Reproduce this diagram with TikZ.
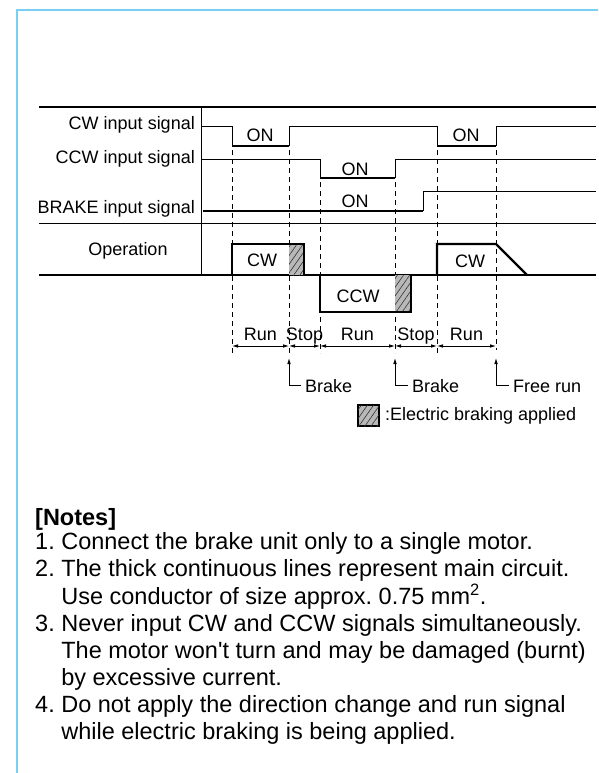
\documentclass[tikz,border=0pt]{standalone}
\usepackage{fontspec}
\setmainfont{Liberation Sans}
\usetikzlibrary{arrows.meta, patterns.meta, positioning}

\definecolor{framecyan}{RGB}{120,208,242}

\tikzset{
  lbl/.style={font=\fontsize{18}{21}\selectfont, inner sep=0pt},
  thinsig/.style={line width=0.9pt},
  onsig/.style={line width=2pt},
  opsig/.style={line width=2.2pt, line join=miter},
  guide/.style={line width=0.8pt, dash pattern=on 5pt off 4pt},
  span/.style={{Latex[length=6pt,width=3.6pt]}-{Latex[length=6pt,width=3.6pt]}, line width=0.8pt},
  pointer/.style={-{Latex[length=6pt,width=3.6pt]}, line width=0.8pt},
  hatched/.style={fill=black!28, postaction={pattern={Lines[angle=55,distance=5pt,line width=0.6pt]}, pattern color=black!80}},
}

\begin{document}
\frenchspacing
\begin{tikzpicture}[x=1pt, y=-1pt]
\useasboundingbox (0,0) rectangle (598,773);

% frame
\draw[framecyan, line width=2.5pt] (17,773) -- (17,10) -- (598,10);

% chart rules
\draw[line width=1.1pt] (39,107) -- (596,107);
\draw[thinsig] (39,223) -- (596,223);
\draw[thinsig] (201,107) -- (201,275);

% row labels
\node[lbl, anchor=base east] (cwlbl) at (195,129) {CW input signal};
\node[lbl, anchor=base east] (ccwlbl) at (195,163) {CCW input signal};
\node[lbl, anchor=base east] (brklbl) at (195,213) {BRAKE input signal};
\node[lbl, anchor=base] (oplbl) at (128,255) {Operation};

% guide lines
\draw[guide] (232,150) -- (232,353);
\draw[guide] (289,150) -- (289,353);
\draw[guide] (320,182) -- (320,353);
\draw[guide] (395,182) -- (395,353);
\draw[guide] (437,150) -- (437,353);
\draw[guide] (496,150) -- (496,350);

% CW input signal
\draw[thinsig] (201,126) -- (232,126) -- (232,146) (289,146) -- (289,126) -- (437,126) -- (437,146)
  (496,146) -- (496,126) -- (596,126);
\draw[onsig] (232,146) -- (289,146);
\draw[onsig] (437,146) -- (496,146);
\node[lbl, anchor=base] (cwon1) at (260,142) {ON};
\node[lbl, anchor=base] (cwon2) at (466,141) {ON};

% CCW input signal
\draw[thinsig] (201,159) -- (320,159) -- (320,178) (395,178) -- (395,159) -- (596,159);
\draw[onsig] (320,178) -- (395,178);
\node[lbl, anchor=base] (ccwon) at (355,175) {ON};

% BRAKE input signal
\draw[onsig] (203,211) -- (423,211);
\draw[thinsig] (423,211) -- (423,191) -- (596,191);
\node[lbl, anchor=base] (brkon) at (355,207) {ON};

% Operation
\draw[opsig] (39,275) -- (596,275);
\path[hatched] (289,244) rectangle (304,275);
\path[hatched] (395,275) rectangle (411,312);
\draw[opsig] (232,275) -- (232,244) -- (304,244) -- (304,275);
\draw[opsig] (320,275) -- (320,312) -- (411,312) -- (411,275);
\draw[opsig] (437,275) -- (437,244) -- (496,244) -- (527,275);
\node[lbl, anchor=base] (opcw1) at (262,266) {CW};
\node[lbl, anchor=base] (opccw) at (358,302) {CCW};
\node[lbl, anchor=base] (opcw2) at (470,267) {CW};

% run / stop spans
\coordinate (m1) at (232,346);
\coordinate (m2) at (289,346);
\coordinate (m3) at (320,346);
\coordinate (m4) at (395,346);
\coordinate (m5) at (437,346);
\coordinate (m6) at (496,346);
\draw[span] (m1) -- (m2);
\draw[span] (m2) -- (m3);
\draw[span] (m3) -- (m4);
\draw[span] (m4) -- (m5);
\draw[span] (m5) -- (m6);
\node[lbl, anchor=base] (run1) at (260.5,340) {Run};
\node[lbl, anchor=base] (stop1) at (304.5,340) {Stop};
\node[lbl, anchor=base] (run2) at (357.5,340) {Run};
\node[lbl, anchor=base] (stop2) at (416,340) {Stop};
\node[lbl, anchor=base] (run3) at (466.5,340) {Run};

% pointers
\coordinate (tip1) at (289,358);
\coordinate (tip2) at (395,358);
\coordinate (tip3) at (496,358);
\node[lbl, anchor=base west] (brake1) at (305,392) {Brake};
\node[lbl, anchor=base west] (brake2) at (412,392) {Brake};
\node[lbl, anchor=base west] (freerun) at (513,392) {Free run};
\draw[pointer] ([xshift=-4pt]brake1.west) -| (tip1);
\draw[pointer] ([xshift=-4pt]brake2.west) -| (tip2);
\draw[pointer] ([xshift=-4pt]freerun.west) -| (tip3);

% legend
\node[draw, line width=1.6pt, hatched, minimum size=21pt, inner sep=0pt] (legbox) at (368.5,415.5) {};
\node[lbl, right=5pt of legbox] (legtxt) {:Electric braking applied};

% notes
\node[anchor=base west, inner sep=0pt, font=\bfseries\fontsize{23.5}{27}\selectfont] (notehead) at (35,525) {[Notes]};
\node[anchor=base west, inner sep=0pt, font=\fontsize{23.5}{27}\selectfont] (notelist) at (35,549)
  {\begin{tabular}[t]{@{}l@{\ }l@{}}
   1. & Connect the brake unit only to a single motor.\\
   2. & The thick continuous lines represent main circuit.\\
      & Use conductor of size approx.\ 0.75 mm\textsuperscript{2}.\\
   3. & Never input CW and CCW signals simultaneously.\\
      & The motor won{\textquotesingle}t turn and may be damaged (burnt)\\
      & by excessive current.\\
   4. & Do not apply the direction change and run signal\\
      & while electric braking is being applied.
   \end{tabular}};
\end{tikzpicture}
\end{document}
